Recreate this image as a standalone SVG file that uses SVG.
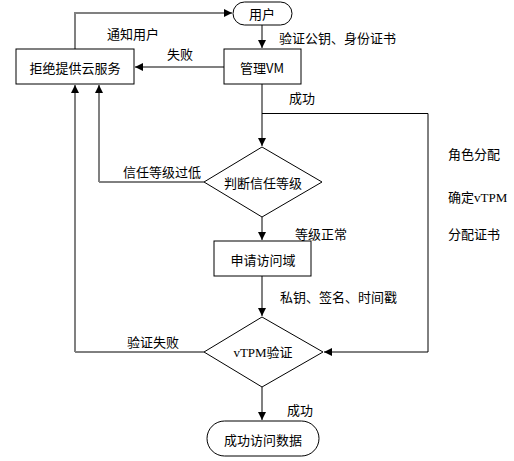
<svg xmlns="http://www.w3.org/2000/svg" width="514" height="461" viewBox="0 0 514 461">
<style>
text{font-family:"Noto Sans CJK SC","Liberation Sans",sans-serif;font-size:13px;fill:#000}
.c{text-anchor:middle;dominant-baseline:central}
.l{dominant-baseline:central}
.s{font-family:"Liberation Serif","Noto Sans CJK SC",serif}
.node{fill:#fff;stroke:#000;stroke-width:1}
.g{fill:none;stroke:#808080;stroke-width:2}
.k{fill:none;stroke:#000;stroke-width:1}
</style>
<defs>
<marker id="a" viewBox="0 0 10 10" refX="10" refY="5" markerWidth="8" markerHeight="8" markerUnits="userSpaceOnUse" orient="auto"><path d="M0,0L10,5L0,10z" fill="#000"/></marker>
</defs>
<g id="connectors">
<path class="g" d="M75,49V13H232" marker-end="url(#a)"/>
<path class="g" d="M262,25V48" marker-end="url(#a)"/>
<path class="g" d="M224,67H135" marker-end="url(#a)"/>
<path class="g" d="M262,84V146" marker-end="url(#a)"/>
<path class="k" d="M262,113.5H428V352H324" marker-end="url(#a)"/>
<path class="k" d="M204,182H99"/>
<path class="g" d="M99,182V85" marker-end="url(#a)"/>
<path class="k" d="M204,352H75"/>
<path class="g" d="M75,352V85" marker-end="url(#a)"/>
<path class="g" d="M262,217V240" marker-end="url(#a)"/>
<path class="g" d="M262,276V316" marker-end="url(#a)"/>
<path class="g" d="M262,387V420" marker-end="url(#a)"/>
<text class="c" x="133" y="33">通知用户</text>
<text class="c" x="180" y="53">失败</text>
<text class="l" x="279" y="37">验证公钥、身份证书</text>
<text class="l" x="289" y="97">成功</text>
<text class="c" x="162" y="171">信任等级过低</text>
<text class="l" x="295" y="233">等级正常</text>
<text class="l" x="280" y="296">私钥、签名、时间戳</text>
<text class="c" x="153" y="341">验证失败</text>
<text class="l" x="287" y="409">成功</text>
</g>
<g id="user"><rect class="node" x="233" y="2" width="59" height="23" rx="11.5"/><text class="c" x="262" y="13.5">用户</text></g>
<g id="reject"><rect class="node" x="16" y="49" width="118" height="35"/><text class="c" x="75" y="67">拒绝提供云服务</text></g>
<g id="manage"><rect class="node" x="224" y="49" width="77" height="35"/><text class="c" x="262" y="67">管理VM</text></g>
<g id="judge"><path class="node" d="M262,147L322,182L262,217L204,182z"/><text class="c" x="263" y="182">判断信任等级</text></g>
<g id="apply"><rect class="node" x="214" y="241" width="97" height="35"/><text class="c" x="263" y="259">申请访问域</text></g>
<g id="verify"><path class="node" d="M262,317L323,352L262,387L204,352z"/><text class="c s" x="263" y="352">vTPM验证</text></g>
<g id="success"><rect class="node" x="207" y="421" width="112" height="35" rx="17.5"/><text class="c" x="263" y="439">成功访问数据</text></g>
<g id="notes">
<text class="l" x="448" y="153">角色分配</text>
<text class="l s" x="448" y="197">确定vTPM</text>
<text class="l" x="448" y="233">分配证书</text>
</g>
</svg>
